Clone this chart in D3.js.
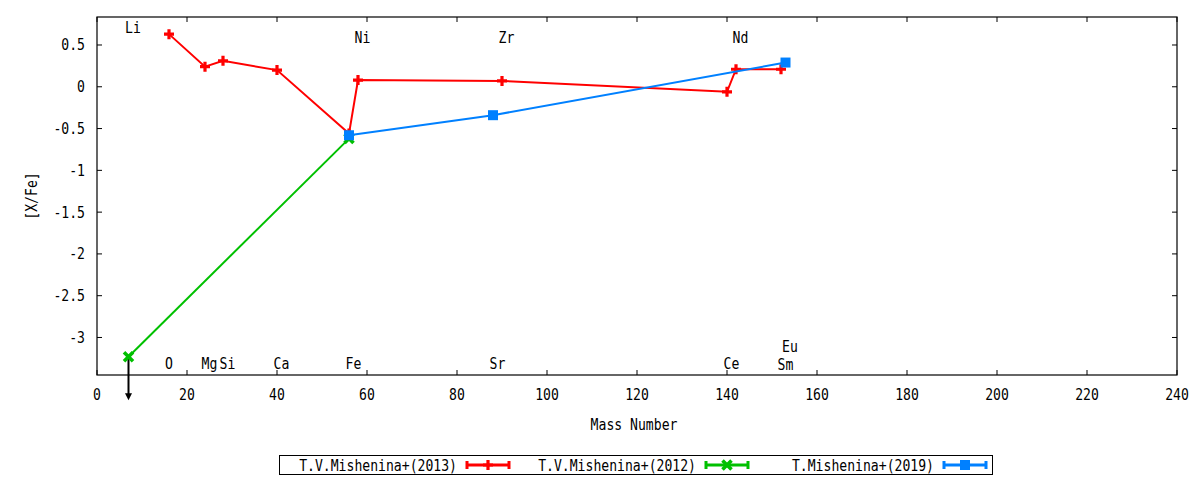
<!DOCTYPE html>
<html><head><meta charset="utf-8">
<script src="https://cdn.jsdelivr.net/npm/d3@7"></script>
<style>body{margin:0;background:#fff}svg{display:block}text{font-family:"DejaVu Sans Mono",monospace;font-size:15px;fill:#000}</style>
</head><body><svg id="c" width="1200" height="480"></svg>
<script>
// Data
const seriesNames = ["T.V.Mishenina+(2013)", "T.V.Mishenina+(2012)", "T.Mishenina+(2019)"];
const seriesColors = ["#ff0000", "#00c000", "#0080ff"];
const seriesMarkers = ["plus", "cross", "square"];
const mass2013 = [16, 24, 28, 40, 56, 58, 90, 140, 142, 152];
const xfe2013  = [0.63, 0.24, 0.31, 0.20, -0.56, 0.08, 0.07, -0.06, 0.21, 0.21];
const mass2012 = [7, 56];
const xfe2012  = [-3.23, -0.62];
const mass2019 = [56, 88, 153];
const xfe2019  = [-0.58, -0.34, 0.29];
// upper limit arrow (Li, 2012)
const limitMass = 7, limitFrom = -3.23, limitTo = -3.75;
// element labels: name, mass position, [X/Fe] position
const labelNames = ["Li","Ni","Zr","Nd","O","Mg","Si","Ca","Fe","Sr","Ce","Sm","Eu"];
const labelMass  = [8, 59, 91, 143, 16, 25, 29, 41, 57, 89, 141, 153, 154];
const labelY     = [0.71, 0.59, 0.59, 0.59, -3.31, -3.31, -3.31, -3.31, -3.31, -3.31, -3.31, -3.32, -3.11];
const xTicks = [0,20,40,60,80,100,120,140,160,180,200,220,240];
const yTicks = [0.5,0,-0.5,-1,-1.5,-2,-2.5,-3];

const svg = d3.select("#c");
const L=97,R=1177,T=17,B=375;
const x = d3.scaleLinear().domain([0,240]).range([L,R]);
const y = d3.scaleLinear().domain([-3.449,0.835]).range([B,T]);
const SX = 0.875;
function txt(px,py,s,anchor,rot){
  const gg = svg.append("g").attr("transform",`translate(${px},${py})`+(rot?` rotate(${rot})`:"")+` scale(${SX},1)`);
  gg.append("text").attr("text-anchor",anchor||"middle").text(s);
}

// ticks (inward, mirrored)
const tk=5;
const g = svg.append("g");
xTicks.forEach(v=>{
  g.append("line").attr("x1",x(v)).attr("x2",x(v)).attr("y1",B).attr("y2",B-tk).attr("stroke","#000");
  g.append("line").attr("x1",x(v)).attr("x2",x(v)).attr("y1",T).attr("y2",T+tk).attr("stroke","#000");
  txt(x(v),400,String(v),"middle");
});
yTicks.forEach(v=>{
  g.append("line").attr("x1",L).attr("x2",L+tk).attr("y1",y(v)).attr("y2",y(v)).attr("stroke","#000");
  g.append("line").attr("x1",R).attr("x2",R-tk).attr("y1",y(v)).attr("y2",y(v)).attr("stroke","#000");
  txt(85,y(v)+5.5,String(v),"end");
});
svg.append("rect").attr("x",L).attr("y",T).attr("width",R-L).attr("height",B-T).attr("fill","none").attr("stroke","#000").attr("stroke-width",1.2);

// axis titles
txt(634,430,"Mass Number","middle");
txt(37,196,"[X/Fe]","middle",-90);

// element labels
labelNames.forEach((n,i)=>{
  txt(x(labelMass[i]),y(labelY[i])+5.5,n,"middle");
});

function marker(sel,type,cx,cy,color){
  if(type==="plus"){
    sel.append("path").attr("d",`M${cx-5},${cy}H${cx+5}M${cx},${cy-5}V${cy+5}`).attr("stroke",color).attr("stroke-width",3.2).attr("fill","none");
  } else if(type==="cross"){
    sel.append("path").attr("d",`M${cx-4.5},${cy-4.5}L${cx+4.5},${cy+4.5}M${cx-4.5},${cy+4.5}L${cx+4.5},${cy-4.5}`).attr("stroke",color).attr("stroke-width",3.6).attr("fill","none");
  } else {
    sel.append("rect").attr("x",cx-5).attr("y",cy-5).attr("width",10).attr("height",10).attr("fill",color);
  }
}

const line = d3.line().x(d=>x(d[0])).y(d=>y(d[1]));
const allMass=[mass2013,mass2012,mass2019], allY=[xfe2013,xfe2012,xfe2019];
// arrow
svg.append("line").attr("x1",x(limitMass)).attr("x2",x(limitMass)).attr("y1",y(limitFrom)).attr("y2",y(limitTo)-6).attr("stroke","#000").attr("stroke-width",2);
svg.append("path").attr("d",`M${x(limitMass)-3.5},${y(limitTo)-7}L${x(limitMass)+3.5},${y(limitTo)-7}L${x(limitMass)},${y(limitTo)}Z`).attr("fill","#000");

[0,1,2].forEach(s=>{
  const pts = allMass[s].map((m,i)=>[m,allY[s][i]]);
  const gs = svg.append("g");
  gs.append("path").attr("d",line(pts)).attr("fill","none").attr("stroke",seriesColors[s]).attr("stroke-width",2);
  pts.forEach(p=>marker(gs,seriesMarkers[s],x(p[0]),y(p[1]),seriesColors[s]));
});

// legend
svg.append("rect").attr("x",279.5).attr("y",455.5).attr("width",713).attr("height",19).attr("fill","none").attr("stroke","#000");
const legTextEnd=[457,696,934];
[0,1,2].forEach(s=>{
  const lx=legTextEnd[s]+10, ly=465, c=seriesColors[s];
  txt(legTextEnd[s],ly+5.5,seriesNames[s],"end");
  svg.append("path").attr("d",`M${lx},${ly}H${lx+42}M${lx},${ly-4}V${ly+4}M${lx+42},${ly-4}V${ly+4}`).attr("stroke",c).attr("stroke-width",3).attr("fill","none");
  marker(svg,seriesMarkers[s],lx+21,ly,c);
});
</script></body></html>
